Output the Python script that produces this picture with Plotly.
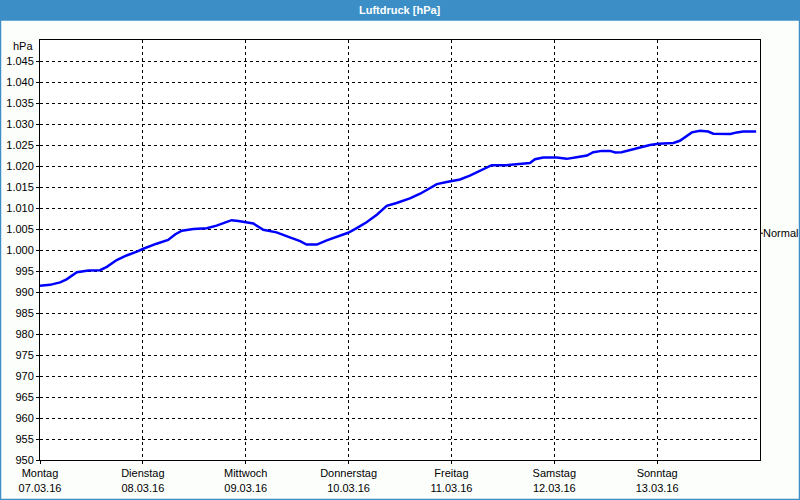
import plotly.graph_objects as go

# hours since Monday 07.03.16 00:00
hours = [0, 2.3, 4.7, 6.2, 8.6, 11.3, 14.0, 15.6, 17.9, 20.2, 22.6, 24.1, 27.2, 29.9,
         31.5, 33.1, 35.8, 38.9, 41.2, 43.2, 44.7, 46.3, 47.4, 49.8, 52.1, 55.2, 58.3,
         60.7, 62.2, 64.6, 66.9, 69.2, 71.9, 73.9, 76.2, 78.6, 80.9, 83.2, 86.3, 88.7,
         90.2, 92.6, 94.9, 98.0, 100.3, 102.7, 105.4, 108.9, 112.0, 114.3, 115.5, 117.4,
         120.6, 122.9, 125.2, 127.6, 129.1, 131.1, 133.0, 134.2, 135.7, 137.7, 140.0,
         142.3, 144.3, 146.2, 147.8, 149.3, 150.9, 152.1, 154.0, 155.9, 157.1, 159.4,
         161.1, 162.6, 164.1, 167.1]
pressure = [991.5, 991.7, 992.3, 993.0, 994.7, 995.1, 995.2, 996.0, 997.6, 998.7, 999.6,
            1000.3, 1001.5, 1002.4, 1003.7, 1004.6, 1005.0, 1005.2, 1005.8, 1006.6, 1007.1,
            1006.9, 1006.7, 1006.3, 1004.8, 1004.2, 1003.0, 1002.1, 1001.3, 1001.3, 1002.3,
            1003.2, 1004.1, 1005.2, 1006.6, 1008.4, 1010.5, 1011.2, 1012.3, 1013.4,
            1014.3, 1015.7, 1016.2, 1016.8, 1017.7, 1018.9, 1020.2, 1020.2, 1020.4, 1020.7,
            1021.6, 1022.0, 1022.0, 1021.7, 1022.1, 1022.5, 1023.3, 1023.6, 1023.6, 1023.2,
            1023.3, 1023.8, 1024.4, 1025.0, 1025.3, 1025.5, 1025.5, 1026.0, 1027.2, 1028.0,
            1028.4, 1028.2, 1027.7, 1027.6, 1027.6, 1028.0, 1028.2, 1028.2]

day_hours = [0, 24, 48, 72, 96, 120, 144]
day_names = ["Montag", "Dienstag", "Mittwoch", "Donnerstag", "Freitag", "Samstag", "Sonntag"]
day_dates = ["07.03.16", "08.03.16", "09.03.16", "10.03.16", "11.03.16", "12.03.16", "13.03.16"]

y_ticks = list(range(950, 1050, 5))
y_labels = [f"{v // 1000}.{v % 1000:03d}" if v >= 1000 else str(v) for v in y_ticks]
normal_level = 1004.0

font = dict(family="Liberation Sans", size=11, color="black")

fig = go.Figure()
fig.add_trace(go.Scatter(
    x=hours, y=pressure, mode="lines",
    line=dict(color="#0000ff", width=2.5), showlegend=False,
))

fig.update_xaxes(
    range=[0, 168], tickvals=day_hours,
    ticktext=[f"{n}<br>{d}" for n, d in zip(day_names, day_dates)],
    showgrid=True, gridcolor="black", griddash="3px,3px", gridwidth=1,
    showline=True, linecolor="black", linewidth=1, mirror=True,
    ticks="outside", ticklen=3, tickcolor="black", zeroline=False,
    automargin=False,
)
fig.update_yaxes(
    range=[950, 1050], tickvals=y_ticks, ticktext=y_labels,
    showgrid=True, gridcolor="black", griddash="3px,3px", gridwidth=1,
    showline=True, linecolor="black", linewidth=1, mirror=True,
    ticks="outside", ticklen=3, tickcolor="black", zeroline=False,
    automargin=False,
)

# title bar and outer frame
fig.add_shape(type="rect", xref="paper", yref="paper", x0=-0.0556, x1=1.0556,
              y0=1.0476, y1=1.0952, fillcolor="#3c8fc6", line_width=0, layer="below")
fig.add_shape(type="rect", xref="paper", yref="paper", x0=-0.0549, x1=1.0549,
              y0=-0.0940, y1=1.0476, line=dict(color="#3c8fc6", width=1.5))
fig.add_annotation(text="<b>Luftdruck [hPa]</b>", xref="paper", yref="paper", x=0.5, y=1.0714,
                   xanchor="center", yanchor="middle", showarrow=False,
                   font=dict(family="Liberation Sans", size=11, color="white"))
fig.add_annotation(text="hPa", xref="paper", yref="paper", x=0, y=0.986, xanchor="right",
                   yanchor="middle", xshift=-5, showarrow=False, font=font)

# "Normal" marker on the right axis
fig.add_shape(type="line", xref="paper", yref="y", x0=1.0, x1=1.0042,
              y0=normal_level, y1=normal_level, line=dict(color="black", width=1))
fig.add_annotation(text="Normal", xref="paper", yref="y", x=1.0, y=normal_level,
                   xanchor="left", yanchor="middle", xshift=1, showarrow=False, font=font)

fig.update_layout(
    width=800, height=500,
    margin=dict(l=40, r=40, t=40, b=40, autoexpand=False),
    paper_bgcolor="#fcfefc", plot_bgcolor="white",
    font=font,
)

fig.write_html("out.html", config={"displayModeBar": False},
               post_script="document.body.style.margin = '0';")
